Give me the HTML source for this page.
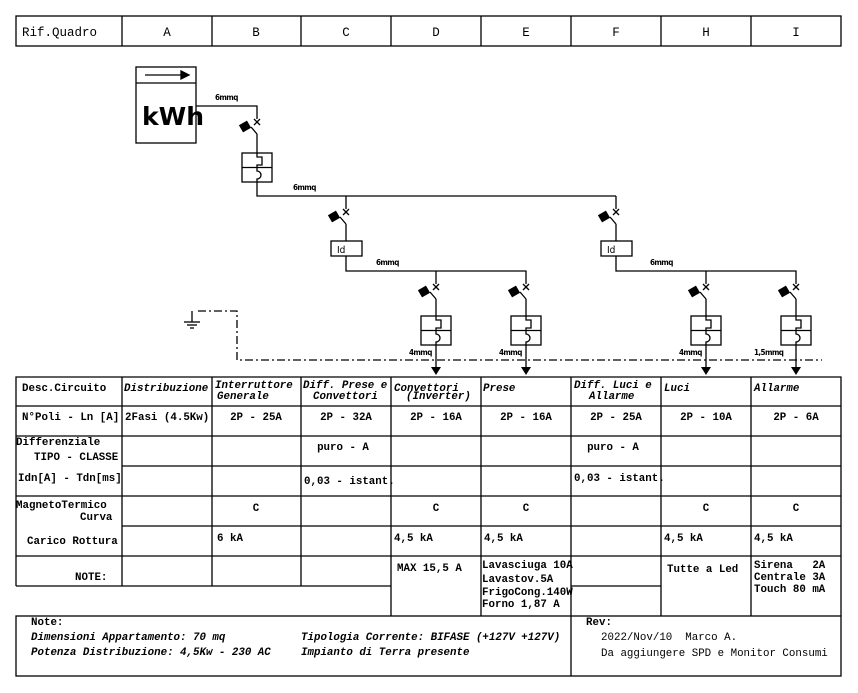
<!DOCTYPE html>
<html><head><meta charset="utf-8"><style>
html,body{margin:0;padding:0;background:#fff;}
svg{display:block;}
text{white-space:pre;}
.t{font-family:"Liberation Mono",monospace;font-weight:bold;font-size:10.8px;fill:#000;}
.ti{font-family:"Liberation Mono",monospace;font-weight:bold;font-style:italic;font-size:10.8px;fill:#000;}
.h{font-family:"Liberation Mono",monospace;font-size:12.5px;fill:#000;}
.s{font-family:"DejaVu Sans Condensed","Liberation Sans",sans-serif;font-size:8px;font-weight:bold;fill:#000;letter-spacing:-0.6px;}
</style></head><body>
<svg width="858" height="693" viewBox="0 0 858 693" xmlns="http://www.w3.org/2000/svg">
<defs>
<g id="sw" stroke="#000" fill="none" stroke-width="1.3">
<line x1="-3" y1="-3" x2="3" y2="3"/><line x1="-3" y1="3" x2="3" y2="-3"/>
<rect x="-16" y="1" width="8" height="7" fill="#000" transform="rotate(-30 -12 4.5)"/>
<line x1="-6" y1="5" x2="0" y2="12"/>
</g>
<g id="mt" stroke="#000" fill="none" stroke-width="1.3">
<rect x="-15" y="0" width="30" height="29" fill="#fff"/>
<line x1="-15" y1="14.5" x2="15" y2="14.5"/>
<path d="M0,0 V4 H5 V12 H0 V14.5 M0,14.5 V18 A4,4 0 0 1 0,26 V29"/>
</g>
</defs>
<g stroke="#000" stroke-width="1.3" fill="none">
<rect x="16" y="16" width="825" height="30"/>
<line x1="122" y1="16" x2="122" y2="46"/><line x1="212" y1="16" x2="212" y2="46"/>
<line x1="301" y1="16" x2="301" y2="46"/><line x1="391" y1="16" x2="391" y2="46"/>
<line x1="481" y1="16" x2="481" y2="46"/><line x1="571" y1="16" x2="571" y2="46"/>
<line x1="661" y1="16" x2="661" y2="46"/><line x1="751" y1="16" x2="751" y2="46"/>
<rect x="136" y="67" width="60" height="76"/>
<line x1="136" y1="83" x2="196" y2="83"/>
<line x1="145" y1="75" x2="182" y2="75"/>
<polygon points="181,71 189,75 181,79" fill="#000"/>
<polyline points="196,106 257,106 257,119"/>
<line x1="257" y1="134" x2="257" y2="153"/>
<polyline points="257,182 257,196 616,196"/>
<line x1="346" y1="196" x2="346" y2="209"/><line x1="346" y1="224" x2="346" y2="241"/>
<rect x="331" y="241" width="31" height="15"/>
<polyline points="346,256 346,271 526,271 526,284"/>
<line x1="436" y1="271" x2="436" y2="284"/>
<line x1="616" y1="196" x2="616" y2="209"/><line x1="616" y1="224" x2="616" y2="241"/>
<rect x="601" y="241" width="31" height="15"/>
<polyline points="616,256 616,271 796,271 796,284"/>
<line x1="706" y1="271" x2="706" y2="284"/>
<line x1="436" y1="299" x2="436" y2="316"/><line x1="526" y1="299" x2="526" y2="316"/>
<line x1="706" y1="299" x2="706" y2="316"/><line x1="796" y1="299" x2="796" y2="316"/>
<line x1="436" y1="345" x2="436" y2="368"/><line x1="526" y1="345" x2="526" y2="368"/>
<line x1="706" y1="345" x2="706" y2="368"/><line x1="796" y1="345" x2="796" y2="368"/>
<polyline points="192,311 192,322"/>
<line x1="184" y1="322" x2="200" y2="322"/><line x1="187" y1="325" x2="197" y2="325"/><line x1="190" y1="328" x2="194" y2="328"/>
<polyline points="198,311 237,311 237,360 822,360" stroke-dasharray="8,3,2,3"/>
<!-- table -->
<polyline points="16,586 16,377 841,377 841,616"/>
<line x1="16" y1="586" x2="391" y2="586"/>
<line x1="16" y1="406" x2="841" y2="406"/>
<line x1="16" y1="436" x2="841" y2="436"/>
<line x1="122" y1="466" x2="841" y2="466"/>
<line x1="16" y1="496" x2="841" y2="496"/>
<line x1="122" y1="526" x2="841" y2="526"/>
<line x1="16" y1="556" x2="841" y2="556"/>
<line x1="122" y1="377" x2="122" y2="586"/><line x1="212" y1="377" x2="212" y2="586"/>
<line x1="301" y1="377" x2="301" y2="586"/><line x1="391" y1="377" x2="391" y2="616"/>
<line x1="481" y1="377" x2="481" y2="616"/><line x1="571" y1="377" x2="571" y2="616"/>
<line x1="661" y1="377" x2="661" y2="616"/><line x1="751" y1="377" x2="751" y2="616"/>
<line x1="571" y1="586" x2="661" y2="586"/>
<rect x="16" y="616" width="825" height="60"/>
<line x1="571" y1="616" x2="571" y2="676"/>
</g>
<g fill="#000">
<polygon points="431,367 441,367 436,375"/><polygon points="521,367 531,367 526,375"/>
<polygon points="701,367 711,367 706,375"/><polygon points="791,367 801,367 796,375"/>
</g>
<use href="#sw" x="257" y="122"/>
<use href="#sw" x="346" y="212"/><use href="#sw" x="616" y="212"/>
<use href="#sw" x="436" y="287"/><use href="#sw" x="526" y="287"/>
<use href="#sw" x="706" y="287"/><use href="#sw" x="796" y="287"/>
<use href="#mt" x="257" y="153"/>
<use href="#mt" x="436" y="316"/><use href="#mt" x="526" y="316"/>
<use href="#mt" x="706" y="316"/><use href="#mt" x="796" y="316"/>
<text x="142" y="125" style="font-family:'DejaVu Sans','Liberation Sans',sans-serif;font-weight:bold;font-size:25px">kWh</text>
<text x="337" y="253" style="font-family:'DejaVu Sans Condensed','Liberation Sans',sans-serif;font-size:10px">Id</text>
<text x="607" y="253" style="font-family:'DejaVu Sans Condensed','Liberation Sans',sans-serif;font-size:10px">Id</text>
<text class="s" x="215" y="100">6mmq</text>
<text class="s" x="293" y="190">6mmq</text>
<text class="s" x="376" y="265">6mmq</text>
<text class="s" x="650" y="265">6mmq</text>
<text class="s" x="409" y="355">4mmq</text>
<text class="s" x="499" y="355">4mmq</text>
<text class="s" x="679" y="355">4mmq</text>
<text class="s" x="754" y="355">1,5mmq</text>
<text class="h" x="22" y="36">Rif.Quadro</text>
<g class="h" text-anchor="middle">
<text x="167" y="36">A</text><text x="256" y="36">B</text><text x="346" y="36">C</text><text x="436" y="36">D</text>
<text x="526" y="36">E</text><text x="616" y="36">F</text><text x="706" y="36">H</text><text x="796" y="36">I</text>
</g>
<text class="t" x="22" y="391">Desc.Circuito</text>
<text class="ti" x="124" y="391">Distribuzione</text>
<text class="ti" x="215" y="388">Interruttore</text><text class="ti" x="217" y="399">Generale</text>
<text class="ti" x="303" y="388">Diff. Prese e</text><text class="ti" x="313" y="399">Convettori</text>
<text class="ti" x="394" y="391">Convettori</text><text class="ti" x="406" y="399">(Inverter)</text>
<text class="ti" x="483" y="391">Prese</text>
<text class="ti" x="574" y="388">Diff. Luci e</text><text class="ti" x="589" y="399">Allarme</text>
<text class="ti" x="664" y="391">Luci</text>
<text class="ti" x="754" y="391">Allarme</text>
<text class="t" x="22" y="420">N°Poli - Ln [A]</text>
<text class="t" x="125" y="420">2Fasi (4.5Kw)</text>
<g class="t" text-anchor="middle">
<text x="256" y="420">2P - 25A</text><text x="346" y="420">2P - 32A</text><text x="436" y="420">2P - 16A</text>
<text x="526" y="420">2P - 16A</text><text x="616" y="420">2P - 25A</text><text x="706" y="420">2P - 10A</text>
<text x="796" y="420">2P - 6A</text>
<text x="343" y="450">puro - A</text><text x="613" y="450">puro - A</text>
<text x="256" y="511">C</text><text x="436" y="511">C</text><text x="526" y="511">C</text><text x="706" y="511">C</text><text x="796" y="511">C</text>
</g>
<text class="t" x="16" y="445">Differenziale</text>
<text class="t" x="34" y="460">TIPO - CLASSE</text>
<text class="t" x="18" y="481">Idn[A] - Tdn[ms]</text>
<text class="t" x="304" y="484">0,03 - istant.</text>
<text class="t" x="574" y="481">0,03 - istant.</text>
<text class="t" x="16" y="508">MagnetoTermico</text>
<text class="t" x="80" y="520">Curva</text>
<text class="t" x="27" y="544">Carico Rottura</text>
<text class="t" x="217" y="541">6 kA</text>
<text class="t" x="394" y="541">4,5 kA</text><text class="t" x="484" y="541">4,5 kA</text>
<text class="t" x="664" y="541">4,5 kA</text><text class="t" x="754" y="541">4,5 kA</text>
<text class="t" x="75" y="580">NOTE:</text>
<text class="t" x="397" y="571">MAX 15,5 A</text>
<text class="t" x="482" y="568">Lavasciuga 10A</text>
<text class="t" x="482" y="582">Lavastov.5A</text>
<text class="t" x="482" y="595">FrigoCong.140W</text>
<text class="t" x="482" y="607">Forno 1,87 A</text>
<text class="t" x="667" y="572">Tutte a Led</text>
<text class="t" x="754" y="568">Sirena   2A</text>
<text class="t" x="754" y="580">Centrale 3A</text>
<text class="t" x="754" y="592">Touch 80 mA</text>
<text class="t" x="31" y="625">Note:</text>
<text class="ti" x="31" y="640">Dimensioni Appartamento: 70 mq</text>
<text class="ti" x="31" y="655">Potenza Distribuzione: 4,5Kw - 230 AC</text>
<text class="ti" x="301" y="640">Tipologia Corrente: BIFASE (+127V +127V)</text>
<text class="ti" x="301" y="655">Impianto di Terra presente</text>
<text class="t" x="586" y="625">Rev:</text>
<text class="t" style="font-weight:normal" x="601" y="640">2022/Nov/10  Marco A.</text>
<text class="t" style="font-weight:normal" x="601" y="656">Da aggiungere SPD e Monitor Consumi</text>
</svg>
</body></html>
